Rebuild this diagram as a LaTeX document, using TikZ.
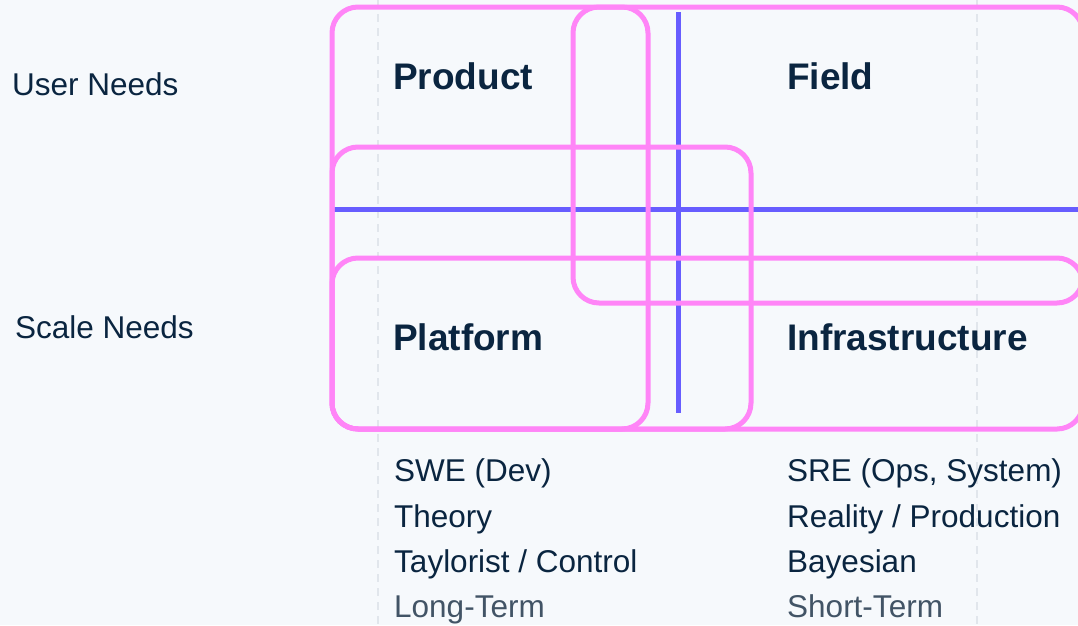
\documentclass[tikz,border=0pt]{standalone}
\usepackage{fontspec}
\setmainfont{Liberation Sans}
\definecolor{bgc}{HTML}{F6F9FC}
\definecolor{ink}{HTML}{0A2540}
\definecolor{muted}{HTML}{425466}
\definecolor{axisblue}{HTML}{675DFF}
\definecolor{grppink}{HTML}{FF85F7}
\definecolor{guidegray}{HTML}{E1E6EC}
\tikzset{
  guide/.style={draw=guidegray, line width=1.5pt, dash pattern=on 8pt off 6pt},
  axisline/.style={draw=axisblue, line width=5pt},
  grp/.style={draw=grppink, line width=5pt, rounded corners=26pt},
  rowlabel/.style={anchor=base west, inner sep=0pt, text=ink, font=\fontsize{31.5}{36}\selectfont},
  quadlabel/.style={anchor=base west, inner sep=0pt, text=ink, font=\fontsize{37}{42}\selectfont\bfseries},
  item/.style={anchor=base west, inner sep=0pt, text=ink, font=\fontsize{31.5}{36}\selectfont},
  itemmuted/.style={item, text=muted}
}
\begin{document}
\begin{tikzpicture}[x=1pt,y=-1pt]
\useasboundingbox (0,0) rectangle (1078,625);
\fill[bgc] (0,0) rectangle (1078,625);
\clip (0,0) rectangle (1078,625);
% guides
\coordinate (g1t) at (378,0); \coordinate (g1b) at (378,625);
\coordinate (g2t) at (977,0); \coordinate (g2b) at (977,625);
\draw[guide] (g1t) -- (g1b);
\draw[guide] (g2t) -- (g2b);
% axes
\coordinate (hl) at (332,209); \coordinate (hr) at (1080,209);
\coordinate (vt) at (678,12); \coordinate (vb) at (678,413);
\draw[axisline] (hl) -- (hr);
\draw[axisline] (vt) -- (vb);
% groups
\draw[grp] (332,7) rectangle (648,429);
\draw[grp] (573,7) rectangle (1083,303);
\draw[grp] (332,147) rectangle (751,429);
\draw[grp] (332,258) rectangle (1083,429);
% row labels
\node[rowlabel] (user) at (12,95) {User Needs};
\node[rowlabel] (scale) at (15,338) {Scale Needs};
% quadrant labels
\node[quadlabel] (product) at (393,89) {Product};
\node[quadlabel] (field) at (787,89) {Field};
\node[quadlabel] (platform) at (393,350) {Platform};
\node[quadlabel] (infra) at (787,350) {Infrastructure};
% lists
\node[item] (l1) at (394,481) {SWE (Dev)};
\node[item] (l2) at (394,527) {Theory};
\node[item] (l3) at (394,572) {Taylorist / Control};
\node[itemmuted] (l4) at (394,617) {Long-Term};
\node[item] (r1) at (787,481) {SRE (Ops, System)};
\node[item] (r2) at (787,527) {Reality / Production};
\node[item] (r3) at (787,572) {Bayesian};
\node[itemmuted] (r4) at (787,617) {Short-Term};
\end{tikzpicture}
\end{document}
